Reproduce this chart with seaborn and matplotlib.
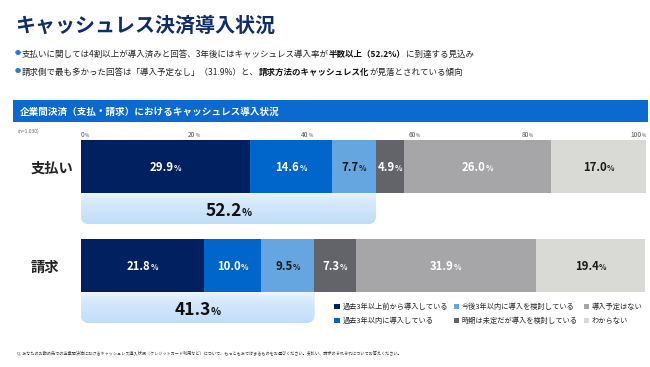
import matplotlib
matplotlib.use("Agg")
import matplotlib.pyplot as plt
import numpy as np
import pandas as pd
import seaborn as sns
from matplotlib.patches import FancyBboxPatch, Rectangle

sns.set_theme(style="white")
FONT = ["Noto Sans CJK JP", "DejaVu Sans"]
plt.rcParams["font.family"] = FONT

W, H = 650, 367

categories = ["支払い", "請求"]
segments = [
    "過去3年以上前から導入している",
    "過去3年以内に導入している",
    "今後3年以内に導入を検討している",
    "時期は未定だが導入を検討している",
    "導入予定はない",
    "わからない",
]
pay_values = [29.9, 14.6, 7.7, 4.9, 26.0, 17.0]
bill_values = [21.8, 10.0, 9.5, 7.3, 31.9, 19.4]
colors = ["#00205f", "#0066cc", "#66a6e0", "#626469", "#a6a6a8", "#d9d9d6"]
label_colors = ["white", "white", "#1a1a1a", "white", "white", "#1a1a1a"]
ticks = [0, 20, 40, 60, 80, 100]

fig = plt.figure(figsize=(6.5, 3.67), dpi=100)
renderer = fig.canvas.get_renderer()


def runs(x, y, pieces, ha="left"):
    # pieces: (text, size, weight, color); x, y in pixels from top-left
    arts = [fig.text(0, 0, s, fontsize=sz, fontweight=wt, color=c, va="baseline", family=FONT)
            for s, sz, wt, c in pieces]
    widths = [a.get_window_extent(renderer).width for a in arts]
    total = sum(widths)
    start = x - {"left": 0, "center": total / 2, "right": total}[ha]
    big = max(p[1] for p in pieces) * 100 / 72
    base = y + 0.37 * big
    for a, w in zip(arts, widths):
        a.set_position((start / W, (H - base) / H))
        start += w


# header
runs(15, 24, [("キャッシュレス決済導入状況", 14.4, "bold", "#0f2c6b")])
runs(15, 53, [("●", 4.5, "normal", "#2a77d4")])
runs(22, 54, [("支払いに関しては4割以上が導入済みと回答、3年後にはキャッシュレス導入率が", 6.1, "normal", "#222222"),
              ("半数以上（52.2%）", 6.1, "bold", "#111111"),
              ("に到達する見込み", 6.1, "normal", "#222222")])
runs(15, 71, [("●", 4.5, "normal", "#2a77d4")])
runs(22, 72, [("請求側で最も多かった回答は「導入予定なし」（31.9%）と、", 6.1, "normal", "#222222"),
              ("請求方法のキャッシュレス化", 6.1, "bold", "#111111"),
              ("が見落とされている傾向", 6.1, "normal", "#222222")])

fig.add_artist(Rectangle((13 / W, (H - 122) / H), 635 / W, 22 / H,
                         transform=fig.transFigure, color="#0a6acf", lw=0))
runs(20, 111, [("企業間決済（支払・請求）におけるキャッシュレス導入状況", 6.9, "bold", "white")])
runs(17, 131, [("(n=1,030)", 3.6, "normal", "#666666")])

# bars
ax = fig.add_axes([81 / W, (H - 326) / H, 565 / W, 188 / H])
cum = np.cumsum(np.array([pay_values, bill_values]), axis=1)
for i in reversed(range(len(segments))):
    sns.barplot(x=cum[:, i], y=categories, orient="h", color=colors[i], saturation=1,
                width=0.535, linewidth=0, label=segments[i], ax=ax, zorder=3)
if ax.get_legend() is not None:
    ax.get_legend().remove()

# highlight boxes (already introduced + planned within 3 years)
box_top, box_bot = 0.0, 0.581
for row, vals in enumerate([pay_values, bill_values]):
    share = sum(vals[:3])
    patch = FancyBboxPatch((0, row + box_top), share, box_bot - box_top,
                           boxstyle="round,pad=0,rounding_size=1.5", mutation_aspect=0.056,
                           facecolor="#c4dff9", edgecolor="none", zorder=1)
    ax.add_patch(patch)
    t = np.linspace(0, 1, 64) ** 0.45
    top_c, bot_c = np.array([0.96, 0.98, 1.0]), np.array([0.76, 0.87, 0.975])
    grad = (top_c[None, :] * (1 - t[:, None]) + bot_c[None, :] * t[:, None])[:, None, :]
    im = ax.imshow(grad, extent=(0, share, row + box_bot, row + 0.268), aspect="auto",
                   origin="upper", zorder=2, interpolation="bilinear")
    im.set_clip_path(patch)

ax.set_xlim(0, 100)
ax.set_ylim(1.611, -0.288)
for s in ax.spines.values():
    s.set_visible(False)
ax.set_xticks([])
ax.set_yticks([])
ax.set_facecolor("none")
ax.patch.set_alpha(0)


def to_px(x, y):
    px, py = ax.transData.transform((x, y))
    return px, H - py


# tick labels
for tk in ticks:
    px, _ = to_px(tk, 0)
    ha = "left" if tk == 0 else ("center" if tk < 60 else "right")
    runs(px, 135, [(str(tk), 4.8, "normal", "#555555"), ("%", 3.4, "normal", "#555555")], ha=ha)

# value labels
for row, vals in enumerate([pay_values, bill_values]):
    left = 0
    for i, v in enumerate(vals):
        px, py = to_px(left + v / 2, row)
        runs(px, py + 0.5, [(f"{v:.1f}", 8.2, "bold", label_colors[i]),
                            ("%", 5.6, "bold", label_colors[i])], ha="center")
        left += v
    share = sum(vals[:3])
    px, py = to_px(share / 2, row + 0.43)
    runs(px, py, [(f"{share:.1f}", 12.5, "bold", "#111111"), ("%", 7.5, "bold", "#111111")],
         ha="center")
    _, cy = to_px(0, row)
    runs(31, cy + 1, [(categories[row], 10.3, "bold", "#222222")])

# legend
by_label = {c.get_label(): c for c in ax.containers}
handles = [by_label[s] for s in segments]
fig.legend(handles, segments, loc="upper left", bbox_to_anchor=(334 / W, (H - 303) / H),
           ncol=3, frameon=False, handlelength=0.8, handleheight=0.8,
           handletextpad=0.35, columnspacing=0.8, labelspacing=0.85, borderpad=0,
           borderaxespad=0, prop={"family": FONT, "size": 5.2})

runs(17, 353, [("Q. あなたのお勤め先での企業間決済におけるキャッシュレス導入状況（クレジットカード利用など）について、"
                "もっともあてはまるものをお選びください。支払い、請求のそれぞれについてお答えください。",
                3.0, "normal", "#333333")])

fig.savefig("out.png", dpi=100)
plt.close(fig)
